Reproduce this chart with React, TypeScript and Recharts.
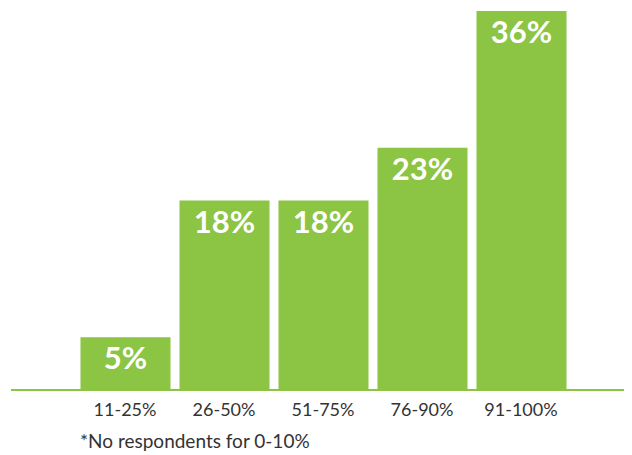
import React from "react";
import { BarChart, Bar, XAxis, YAxis, LabelList } from "recharts";

const categories = ["11-25%", "26-50%", "51-75%", "76-90%", "91-100%"];
const shares = [5, 18, 18, 23, 36];
const footnote = "*No respondents for 0-10%";

const data = categories.map((c, i) => ({ range: c, share: shares[i] }));

const GREEN = "#8cc443";
const FONT = "Lato, 'Open Sans', sans-serif";

export default function App() {
  return (
    <div style={{ position: "relative", width: 632, height: 455, marginLeft: -8, marginTop: -8, fontFamily: FONT }}>
      <BarChart
        width={632}
        height={455}
        data={data}
        margin={{ top: 11, right: 0, bottom: 35, left: 11 }}
        barSize={90}
      >
        <YAxis hide domain={[0, 36]} />
        <XAxis
          dataKey="range"
          axisLine={{ stroke: GREEN, strokeWidth: 2 }}
          tickLine={false}
          height={30}
          tickMargin={7}
          padding={{ left: 64.5, right: 61.5 }}
          tick={{ fill: "#333333", fontSize: 18, fontFamily: FONT }}
          interval={0}
        />
        <Bar dataKey="share" fill={GREEN} isAnimationActive={false}>
          <LabelList
            dataKey="share"
            position="insideTop"
            offset={10}
            formatter={(v: number) => `${v}%`}
            style={{ fill: "#ffffff", fontSize: 31, fontWeight: 700, fontFamily: FONT }}
          />
        </Bar>
      </BarChart>
      <div
        style={{
          position: "absolute",
          left: 80,
          top: 429,
          fontSize: 19,
          color: "#333333",
          fontFamily: FONT,
          whiteSpace: "nowrap",
        }}
      >
        {footnote}
      </div>
    </div>
  );
}
